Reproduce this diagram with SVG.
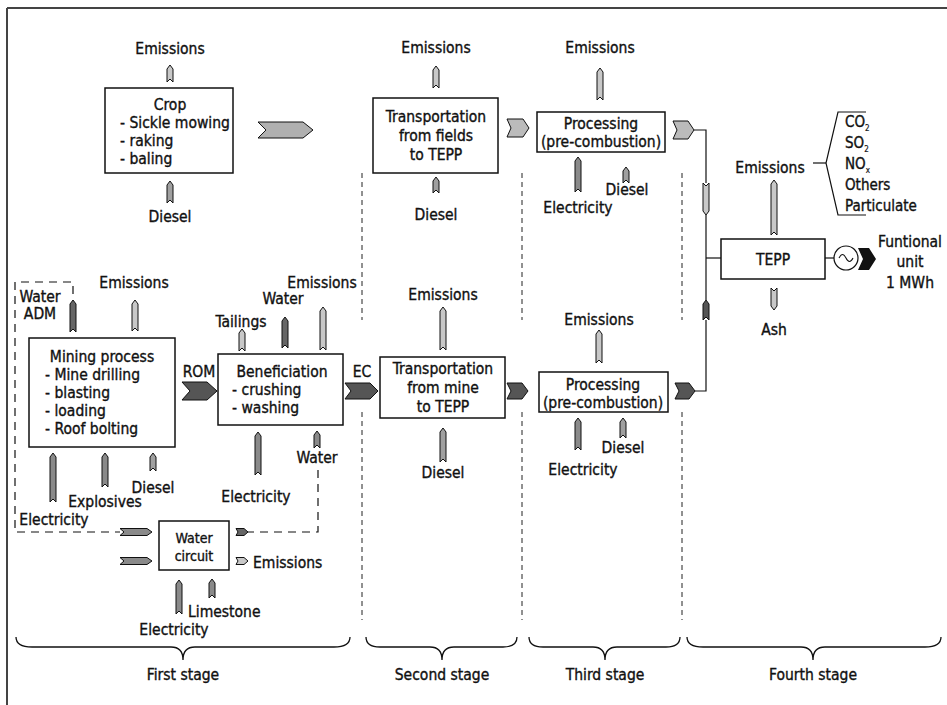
<svg xmlns="http://www.w3.org/2000/svg" width="947" height="705" viewBox="0 0 947 705">
<style>
text{font-family:'DejaVu Sans Condensed','DejaVu Sans',sans-serif;font-stretch:condensed;font-size:15.5px;fill:#111;stroke:#111;stroke-width:0.35}
.c{text-anchor:middle}
.sm{font-size:14px}
.gas{font-size:15px}
.sub{font-size:8px;stroke-width:0.2}
.box{fill:#fff;stroke:#111;stroke-width:1.5}
.ar{stroke:#111;stroke-width:1}
.lt{fill:#c8c8c8}
.md{fill:#a0a0a0}
.el{fill:#8a8a8a}
.dk{fill:#666}
.dk2{fill:#555}
.ln{fill:none;stroke:#111;stroke-width:1.2}
.dash{fill:none;stroke:#111;stroke-width:1.2;stroke-dasharray:8,6}
.stage{fill:none;stroke:#222;stroke-width:1;stroke-dasharray:5,4}
.brace{fill:none;stroke:#111;stroke-width:1.3}
</style>
<g id="frame">
<line x1="7" y1="8" x2="947" y2="8" stroke="#444" stroke-width="2"/>
<line x1="7" y1="8" x2="7" y2="705" stroke="#444" stroke-width="2"/>
</g>
<g id="stage-lines">
<line class="stage" x1="362" y1="173" x2="362" y2="320"/>
<line class="stage" x1="522" y1="173" x2="522" y2="320"/>
<line class="stage" x1="682" y1="173" x2="682" y2="320"/>
<line class="stage" x1="362" y1="412" x2="362" y2="620"/>
<line class="stage" x1="522" y1="412" x2="522" y2="620"/>
<line class="stage" x1="682" y1="412" x2="682" y2="620"/>
</g>
<g id="connectors">
<path class="ar lt" d="M167,82 L167,69 L170,65 L173,69 L173,82 L170,79 Z"/>
<path class="ar md" d="M167,203 L167,185 L170,181 L173,185 L173,203 L170,200 Z"/>
<path class="ar" fill="#b0b0b0" d="M258,122 L303,122 L313,130 L303,138 L258,138 L266,130 Z"/>
<path class="ar lt" d="M433,88 L433,70 L436,66 L439,70 L439,88 L436,85 Z"/>
<path class="ar md" d="M433,193 L433,181 L436,177 L439,181 L439,193 L436,190 Z"/>
<path class="ar" fill="#bbb" d="M507,119 L523,119 L529,128 L523,137 L507,137 L511,128 Z"/>
<path class="ar lt" d="M597,100 L597,72 L600,68 L603,72 L603,100 L600,97 Z"/>
<path class="ar el" d="M575,192 L575,161 L578,157 L581,161 L581,192 L578,189 Z"/>
<path class="ar md" d="M623,183 L623,171 L626,167 L629,171 L629,183 L626,180 Z"/>
<path class="ar" fill="#bbb" d="M673,121 L688,121 L694,130 L688,139 L673,139 L677,130 Z"/>
<polyline class="ln" points="694,130 706,130 706,183"/>
<path class="ar lt" d="M703,183 L706,186 L709,183 L709,211 L706,215 L703,211 Z"/>
<line class="ln" x1="706" y1="215" x2="706" y2="300"/>
<path class="ar" fill="#555" d="M703,320 L703,304 L706,300 L709,304 L709,320 L706,317 Z"/>
<polyline class="ln" points="706,320 706,391 695,391"/>
<line class="ln" x1="706" y1="258" x2="721" y2="258"/>
<path class="ar lt" d="M771,235 L771,184 L774,180 L777,184 L777,235 L774,232 Z"/>
<path class="ar lt" d="M771,288 L774,291 L777,288 L777,306 L774,310 L771,306 Z"/>
<line class="ln" x1="813" y1="163" x2="826" y2="163"/>
<polyline class="ln" points="866,112 838,112 826,163 838,215 866,215"/>
<line class="ln" x1="825" y1="258" x2="834" y2="258"/>
<path fill="#111" d="M858,248 L869,248 L876,259 L869,270 L858,270 L863,259 Z"/>
<polyline class="dash" points="73,294 73,282 15,282 15,532 120,532"/>
<path class="ar dk" d="M70,332 L70,304 L73,300 L76,304 L76,332 L73,329 Z"/>
<path class="ar lt" d="M132,331 L132,304 L135,300 L138,304 L138,331 L135,328 Z"/>
<path class="ar el" d="M50,502 L50,457 L53,453 L56,457 L56,502 L53,499 Z"/>
<path class="ar el" d="M102,487 L102,457 L105,453 L108,457 L108,487 L105,484 Z"/>
<path class="ar md" d="M150,471 L150,457 L153,453 L156,457 L156,471 L153,468 Z"/>
<path class="ar dk2" d="M182,382 L207,382 L217,391 L207,400 L182,400 L190,391 Z"/>
<path class="ar lt" d="M239,351 L239,333 L242,329 L245,333 L245,351 L242,348 Z"/>
<path class="ar dk" d="M282,348 L282,321 L285,317 L288,321 L288,348 L285,345 Z"/>
<path class="ar lt" d="M320,350 L320,311 L323,307 L326,311 L326,350 L323,347 Z"/>
<path class="ar el" d="M255,475 L255,436 L258,432 L261,436 L261,475 L258,472 Z"/>
<path class="ar el" d="M314,448 L314,435 L317,431 L320,435 L320,448 L317,445 Z"/>
<polyline class="dash" points="318,470 318,532 248,532"/>
<path class="ar dk2" d="M345,383 L370,383 L378,391 L370,399 L345,399 L351,391 Z"/>
<path class="ar el" d="M120,528.5 L147,528.5 L152,532 L147,535.5 L120,535.5 L124,532 Z"/>
<path class="ar el" d="M120,557.5 L147,557.5 L152,561 L147,564.5 L120,564.5 L124,561 Z"/>
<path class="ar dk" d="M236,528.5 L244,528.5 L248,532 L244,535.5 L236,535.5 L238,532 Z"/>
<path class="ar lt" d="M236,557.5 L244,557.5 L248,561 L244,564.5 L236,564.5 L238,561 Z"/>
<path class="ar el" d="M176,614 L176,584 L179,580 L182,584 L182,614 L179,611 Z"/>
<path class="ar el" d="M209,598 L209,583 L212,579 L215,583 L215,598 L212,595 Z"/>
<path class="ar lt" d="M440,350 L440,311 L443,307 L446,311 L446,350 L443,347 Z"/>
<path class="ar md" d="M440,462 L440,432 L443,428 L446,432 L446,462 L443,459 Z"/>
<path class="ar dk2" d="M507,383 L522,383 L528,391 L522,399 L507,399 L511,391 Z"/>
<path class="ar lt" d="M596,363 L596,334 L599,330 L602,334 L602,363 L599,360 Z"/>
<path class="ar el" d="M575,450 L575,422 L578,418 L581,422 L581,450 L578,447 Z"/>
<path class="ar md" d="M620,438 L620,422 L623,418 L626,422 L626,438 L623,435 Z"/>
<path class="ar dk2" d="M675,383 L689,383 L695,391 L689,399 L675,399 L679,391 Z"/>
</g>
<g id="crop">
<rect class="box" x="105" y="88" width="128" height="85"/>
<text class="c" x="170" y="110">Crop</text>
<text x="120" y="128">- Sickle mowing</text>
<text x="120" y="146">- raking</text>
<text x="120" y="164">- baling</text>
<text class="c" x="170" y="54">Emissions</text>
<text class="c" x="170" y="222">Diesel</text>
</g>
<g id="transport-fields">
<rect class="box" x="373" y="98" width="125" height="75"/>
<text class="c" x="436" y="122">Transportation</text>
<text class="c" x="436" y="141">from fields</text>
<text class="c" x="436" y="160">to TEPP</text>
<text class="c" x="436" y="53">Emissions</text>
<text class="c" x="436" y="220">Diesel</text>
</g>
<g id="processing-1">
<rect class="box" x="537" y="112" width="128" height="40"/>
<text class="c" x="601" y="129">Processing</text>
<text class="c" x="601" y="147">(pre-combustion)</text>
<text class="c" x="600" y="53">Emissions</text>
<text class="c" x="578" y="213">Electricity</text>
<text class="c" x="627" y="195">Diesel</text>
</g>
<g id="tepp">
<rect class="box" x="721" y="239" width="104" height="40"/>
<text class="c" x="773" y="265">TEPP</text>
<text class="c" x="770" y="173">Emissions</text>
<text class="c" x="774" y="335">Ash</text>
</g>
<g id="gases">
<text class="gas" x="845" y="127">CO<tspan class="sub" dy="4">2</tspan></text>
<text class="gas" x="845" y="148">SO<tspan class="sub" dy="4">2</tspan></text>
<text class="gas" x="845" y="169">NO<tspan class="sub" dy="4">x</tspan></text>
<text class="gas" x="845" y="190">Others</text>
<text class="gas" x="845" y="211">Particulate</text>
</g>
<g id="generator">
<circle cx="846" cy="258" r="12" fill="#fff" stroke="#111" stroke-width="1.2"/>
<path d="M839,258 Q842.5,251 846,258 T853,258" fill="none" stroke="#111" stroke-width="1.1"/>
</g>
<g id="functional-unit">
<text class="c" x="910" y="247">Funtional</text>
<text class="c" x="910" y="267">unit</text>
<text class="c" x="910" y="288">1 MWh</text>
</g>
<g id="mining">
<rect class="box" x="29" y="338" width="146" height="109"/>
<text class="c" x="102" y="362">Mining process</text>
<text x="45" y="380">- Mine drilling</text>
<text x="45" y="398">- blasting</text>
<text x="45" y="416">- loading</text>
<text x="45" y="434">- Roof bolting</text>
<text class="c" x="40" y="302">Water</text>
<text class="c" x="40" y="319">ADM</text>
<text class="c" x="134" y="288">Emissions</text>
<text class="c" x="153" y="493">Diesel</text>
<text class="c" x="105" y="507">Explosives</text>
<text class="c" x="54" y="525">Electricity</text>
<text class="c" x="199" y="377">ROM</text>
</g>
<g id="beneficiation">
<rect class="box" x="218" y="354" width="125" height="71"/>
<text class="c" x="282" y="377">Beneficiation</text>
<text x="232" y="395">- crushing</text>
<text x="232" y="413">- washing</text>
<text class="c" x="241" y="327">Tailings</text>
<text class="c" x="283" y="304">Water</text>
<text class="c" x="322" y="288">Emissions</text>
<text class="c" x="256" y="502">Electricity</text>
<text class="c" x="317" y="463">Water</text>
<text class="c" x="362" y="377">EC</text>
</g>
<g id="water-circuit">
<rect class="box" x="159" y="521" width="70" height="49"/>
<text class="c sm" x="194" y="543">Water</text>
<text class="c sm" x="194" y="561">circuit</text>
<text x="253" y="568">Emissions</text>
<text x="188" y="617">Limestone</text>
<text class="c" x="174" y="635">Electricity</text>
</g>
<g id="transport-mine">
<rect class="box" x="380" y="357" width="125" height="61"/>
<text class="c" x="443" y="374">Transportation</text>
<text class="c" x="443" y="393">from mine</text>
<text class="c" x="443" y="412">to TEPP</text>
<text class="c" x="443" y="300">Emissions</text>
<text class="c" x="443" y="478">Diesel</text>
</g>
<g id="processing-2">
<rect class="box" x="539" y="372" width="129" height="40"/>
<text class="c" x="603" y="390">Processing</text>
<text class="c" x="603" y="408">(pre-combustion)</text>
<text class="c" x="599" y="325">Emissions</text>
<text class="c" x="583" y="475">Electricity</text>
<text class="c" x="623" y="453">Diesel</text>
</g>
<g id="stages">
<path class="brace" d="M16,637 Q16,647 32,647 L171,647 Q183,647 183,660 Q183,647 195,647 L334,647 Q350,647 350,637"/>
<path class="brace" d="M366,637 Q366,647 380,647 L430,647 Q442,647 442,660 Q442,647 454,647 L503,647 Q517,647 517,637"/>
<path class="brace" d="M529,637 Q529,647 543,647 L593,647 Q605,647 605,660 Q605,647 617,647 L666,647 Q680,647 680,637"/>
<path class="brace" d="M687,637 Q687,647 703,647 L801,647 Q813,647 813,660 Q813,647 825,647 L925,647 Q941,647 941,637"/>
<text class="c" x="183" y="680">First stage</text>
<text class="c" x="442" y="680">Second stage</text>
<text class="c" x="605" y="680">Third stage</text>
<text class="c" x="813" y="680">Fourth stage</text>
</g>
</svg>
